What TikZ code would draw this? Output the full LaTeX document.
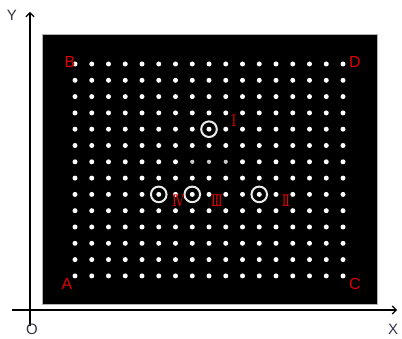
\documentclass[tikz,border=0pt]{standalone}
\usepackage{fontspec}
\setmainfont{Liberation Sans}
\newfontfamily\numfont{DejaVu Serif}
\usetikzlibrary{arrows.meta}
\definecolor{labelred}{HTML}{E00000}
\definecolor{axisgray}{HTML}{333344}

\begin{document}
\begin{tikzpicture}[x=1pt, y=-1pt,
  corner/.style={text=labelred, font=\fontsize{16}{16}\selectfont, inner sep=0pt},
  numeral/.style={text=labelred, font=\numfont\fontsize{16}{16}\selectfont, inner sep=0pt, xscale=0.75},
  axislabel/.style={text=axisgray, font=\fontsize{15}{15}\selectfont, inner sep=0pt},
  axis/.style={line width=1.2pt, -{Straight Barb[length=4pt,width=8pt]}},
  spot/.style={fill=white},
  faint/.style={fill=white!80!black},
  ring/.style={draw=white!92!black, line width=2pt}]
\useasboundingbox (0,0) rectangle (402,339);
% plate
\draw[fill=black, draw=gray!60] (42,34) rectangle (377,304);
% grid of spots
\foreach \i in {0,...,16}
  \foreach \j in {0,...,13} {
    \pgfmathsetmacro\px{75+16.75*\i}
    \pgfmathsetmacro\py{64+16.3*\j}
    \ifnum\j=6
      \ifnum\i>6 \ifnum\i<10
        \fill[faint] (\px,\py) circle (2.1);
      \else \fill[spot] (\px,\py) circle (2.5); \fi
      \else \fill[spot] (\px,\py) circle (2.5); \fi
    \else
      \fill[spot] (\px,\py) circle (2.5);
    \fi
  }
% marked spots
\draw[ring] (209,129.2) circle (7.8);
\draw[ring] (158.75,194.4) circle (7.8);
\draw[ring] (192.25,194.4) circle (7.8);
\draw[ring] (259.25,194.4) circle (7.8);
\node[numeral] (n1) at (234,121) {Ⅰ};
\node[numeral] (n2) at (286,201) {Ⅱ};
\node[numeral] (n3) at (217,201) {Ⅲ};
\node[numeral] (n4) at (178,201) {Ⅳ};
% corners
\node[corner] (B) at (70,62) {B};
\node[corner] (D) at (355,62) {D};
\node[corner] (A) at (67,284) {A};
\node[corner] (C) at (355,284) {C};
% axes
\coordinate (xs) at (12,310);
\coordinate (xe) at (397,310);
\coordinate (ys) at (30,326);
\coordinate (ye) at (30,12);
\draw[axis] (xs) -- (xe);
\draw[axis] (ys) -- (ye);
\node[axislabel] (Y) at (12,15) {Y};
\node[axislabel] (O) at (32,329) {O};
\node[axislabel] (X) at (393,329) {X};
\end{tikzpicture}
\end{document}
